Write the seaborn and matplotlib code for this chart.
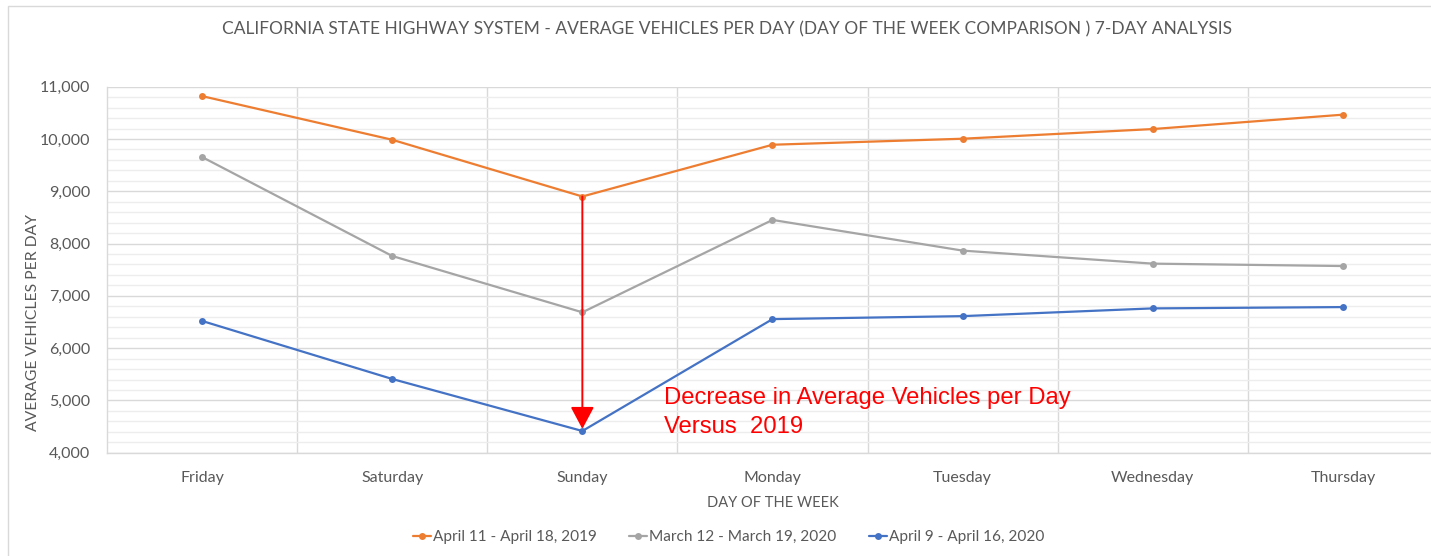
import pandas as pd
import numpy as np
import matplotlib
matplotlib.use("Agg")
import matplotlib.pyplot as plt
from matplotlib.ticker import MultipleLocator, FixedLocator, StrMethodFormatter
from matplotlib.patches import Rectangle
import seaborn as sns

# data
days = ["Friday", "Saturday", "Sunday", "Monday", "Tuesday", "Wednesday", "Thursday"]
apr_2019 = [10820, 9985, 8900, 9890, 10005, 10190, 10465]
mar_2020 = [9655, 7762, 6685, 8452, 7865, 7616, 7570]
apr_2020 = [6520, 5410, 4415, 6555, 6612, 6760, 6785]
series_names = ["April 11 - April 18, 2019", "March 12 - March 19, 2020", "April 9 - April 16, 2020"]
colors = ["#ED7D31", "#A5A5A5", "#4472C4"]

df = pd.DataFrame({
    "day": days * 3,
    "value": apr_2019 + mar_2020 + apr_2020,
    "period": [series_names[0]] * 7 + [series_names[1]] * 7 + [series_names[2]] * 7,
})

sns.set_style("white")
plt.rcParams["font.family"] = ["Lato", "DejaVu Sans"]
txt = "#595959"

fig = plt.figure(figsize=(14.31, 5.56), dpi=100)
ax = fig.add_axes([107 / 1431, 1 - 452.7 / 556, (1438 - 107) / 1431, (452.7 - 86.7) / 556])

sns.lineplot(data=df, x="day", y="value", hue="period", palette=colors, marker="o",
             markersize=5, markeredgewidth=0, linewidth=1.6, sort=False, ax=ax, legend=True)

ax.set_xlim(-0.5, 6.5)
ax.set_ylim(4000, 11000)
ax.yaxis.set_major_locator(MultipleLocator(1000))
ax.yaxis.set_minor_locator(MultipleLocator(200))
ax.yaxis.set_major_formatter(StrMethodFormatter("{x:,.0f}"))
ax.xaxis.set_minor_locator(FixedLocator(np.arange(0.5, 6.0, 1.0)))

ax.yaxis.grid(True, which="major", color="#D9D9D9", linewidth=1.0)
ax.yaxis.grid(True, which="minor", color="#EDEDED", linewidth=1.0)
ax.xaxis.grid(True, which="minor", color="#D9D9D9", linewidth=1.0)
ax.xaxis.grid(False, which="major")
ax.set_axisbelow(True)

for s in ["top", "right"]:
    ax.spines[s].set_visible(False)
for s in ["left", "bottom"]:
    ax.spines[s].set_color("#D9D9D9")
    ax.spines[s].set_linewidth(1.0)

ax.tick_params(axis="both", which="both", length=0, labelsize=11.5, labelcolor=txt)
ax.tick_params(axis="x", pad=13)
ax.tick_params(axis="y", pad=12)
ax.set_xlabel("DAY OF THE WEEK", fontsize=10.5, color=txt, labelpad=8)
ax.set_ylabel("AVERAGE VEHICLES PER DAY", fontsize=11.3, color=txt)
ax.yaxis.set_label_coords(-0.0503, 0.357)

# red arrow from 2019 Sunday down to April 2020 Sunday
sun = days.index("Sunday")
ax.annotate("", xy=(sun, apr_2020[sun] + 40), xytext=(sun, apr_2019[sun]),
            arrowprops=dict(arrowstyle="-|>,head_width=0.33,head_length=0.62", color="#FF0000",
                            lw=1.4, mutation_scale=22, shrinkA=0, shrinkB=0))
ax.text(2.43, 4770, "Decrease in Average Vehicles per Day\nVersus  2019", color="#FF0000",
        fontsize=17.2, family=["Liberation Sans", "DejaVu Sans"], va="center", ha="left",
        linespacing=1.38)

handles, labels = ax.get_legend_handles_labels()
ax.legend_.remove()
fig.legend(handles, labels, loc="center", bbox_to_anchor=(0.509, 0.034), ncol=3, frameon=False,
           fontsize=11.1, handlelength=1.2, handletextpad=0.1, columnspacing=2.1, labelcolor=txt)

fig.text(727 / 1431, 1 - 29 / 556, "CALIFORNIA STATE HIGHWAY SYSTEM - AVERAGE VEHICLES PER DAY (DAY OF THE WEEK COMPARISON ) 7-DAY ANALYSIS",
         ha="center", va="center", fontsize=12.5, color=txt)

fig.patches.append(Rectangle((8 / 1431, -0.1), 1.2, 1 - 6 / 556 + 0.1, transform=fig.transFigure,
                             fill=False, edgecolor="#D9D9D9", linewidth=1.0))

fig.savefig("out.png", dpi=100)
